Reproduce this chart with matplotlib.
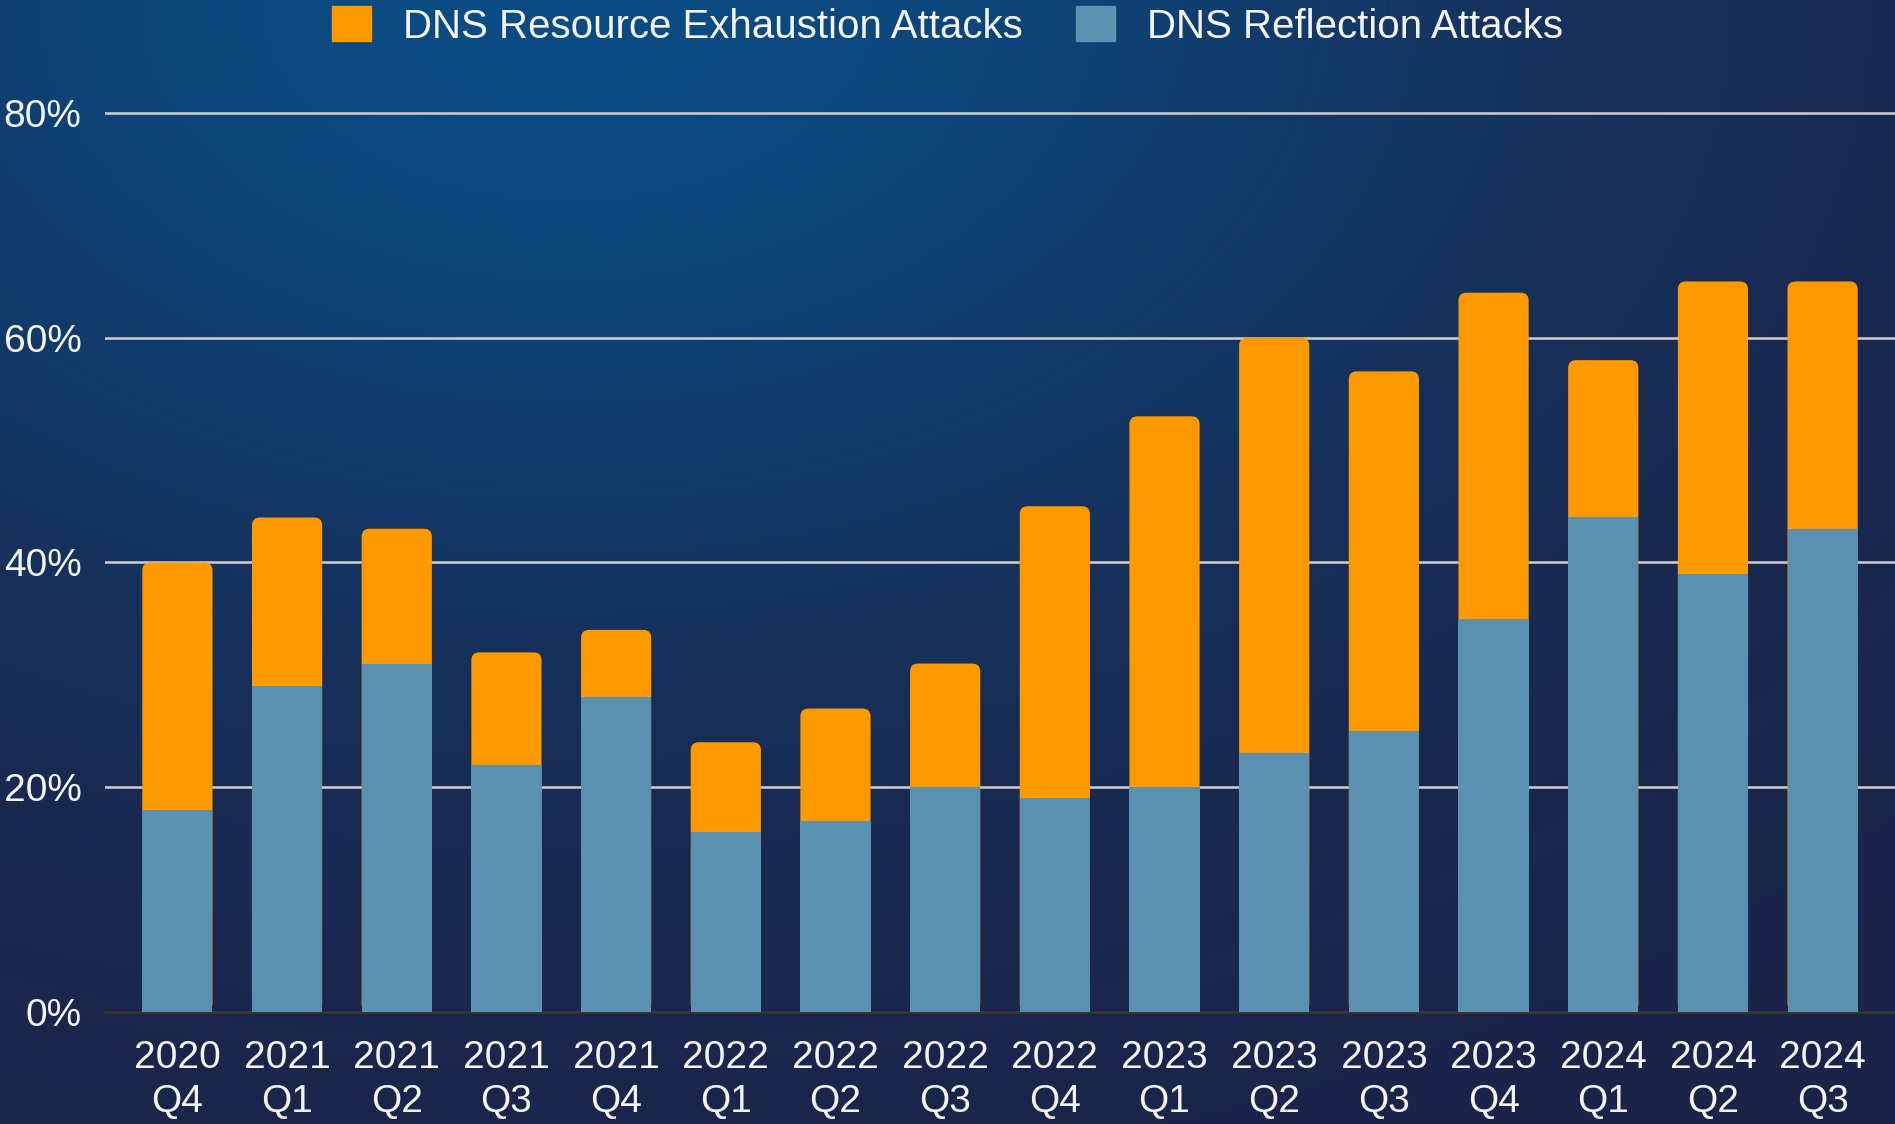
import numpy as np
import matplotlib
matplotlib.use('Agg')
import matplotlib.pyplot as plt
from matplotlib.patches import Patch, FancyBboxPatch
from matplotlib.colors import to_rgb

years = ['2020', '2021', '2021', '2021', '2021', '2022', '2022', '2022', '2022',
         '2023', '2023', '2023', '2023', '2024', '2024', '2024']
quarters = ['Q4', 'Q1', 'Q2', 'Q3', 'Q4', 'Q1', 'Q2', 'Q3', 'Q4',
            'Q1', 'Q2', 'Q3', 'Q4', 'Q1', 'Q2', 'Q3']
reflection = [18, 29, 31, 22, 28, 16, 17, 20, 19, 20, 23, 25, 35, 44, 39, 43]
exhaustion = [22, 15, 12, 10, 6, 8, 10, 11, 26, 33, 37, 32, 29, 14, 26, 22]
yticks = [0, 20, 40, 60, 80]

orange = '#ff9900'
blue = '#5a91b0'
white = '#f4f4f4'
grid = '#cfcfcf'

plt.rcParams['font.family'] = ['Liberation Sans', 'DejaVu Sans']

W, H = 1895, 1124
fig = plt.figure(figsize=(W / 100, H / 100), dpi=100)

# background: blue glow top-left fading into navy
u = np.linspace(0, 1, W)[None, :]
v = np.linspace(0, 1, H)[:, None]
w = np.exp(-((u - 0.3) / 0.5) ** 2 - (v / 0.55) ** 2)
c0 = np.array(to_rgb('#1b2449'))
c1 = np.array(to_rgb('#0a4c84'))
img = c0[None, None, :] * (1 - w[..., None]) + c1[None, None, :] * w[..., None]
bg = fig.add_axes([0, 0, 1, 1], zorder=-10)
bg.imshow(img, aspect='auto', interpolation='bilinear')
bg.axis('off')

left, bottom_px, top_px = 105, 1012, 105
ax = fig.add_axes([left / W, 1 - bottom_px / H, 1 - left / W, (bottom_px - top_px) / H])
ax.patch.set_alpha(0)

x = np.arange(len(years))
bw = 0.64
ax.set_xlim(-0.66, len(years) - 1 + 0.66)
ax.set_ylim(0, 80.7)

# px -> data ratio for rounded tops
xper = (ax.get_xlim()[1] - ax.get_xlim()[0]) / (W - left)
yper = 80.7 / (bottom_px - top_px)
rs = 8 * xper

blue_bars = ax.bar(x, reflection, width=bw, color=blue, zorder=3)
org_bars = ax.bar(x, exhaustion, bottom=reflection, width=bw, color=orange, zorder=2)
for r in org_bars:
    top = r.get_y() + r.get_height()
    fb = FancyBboxPatch((r.get_x(), 0), r.get_width(), top,
                        boxstyle='round,pad=0,rounding_size=%f' % rs,
                        mutation_aspect=yper / xper,
                        facecolor=orange, edgecolor='none', zorder=2)
    ax.add_patch(fb)
    r.set_visible(False)

ax.set_yticks(yticks)
ax.set_yticklabels(['%d%%' % t for t in yticks])
ax.set_xticks(x)
ax.set_xticklabels(['%s\n%s' % (a, b) for a, b in zip(years, quarters)])
ax.tick_params(axis='y', length=0, pad=17, labelsize=28, labelcolor=white)
ax.tick_params(axis='x', length=0, pad=20, labelsize=28, labelcolor=white)
for lab in ax.get_xticklabels():
    lab.set_linespacing(1.3)

for t in yticks[1:]:
    ax.axhline(t, color=grid, lw=1.8, zorder=1)
for s in ['top', 'right', 'left']:
    ax.spines[s].set_visible(False)
ax.spines['bottom'].set_color('#3a3530')
ax.spines['bottom'].set_linewidth(2)

fig.legend(handles=[Patch(color=orange), Patch(color=blue)],
           labels=['DNS Resource Exhaustion Attacks', 'DNS Reflection Attacks'],
           ncol=2, loc='center', bbox_to_anchor=(0.5, 0.977), frameon=False,
           fontsize=29, handlelength=0.97, handleheight=0.97, handletextpad=0.8,
           columnspacing=1.3, labelcolor=white)

fig.savefig('out.png', dpi=100)
